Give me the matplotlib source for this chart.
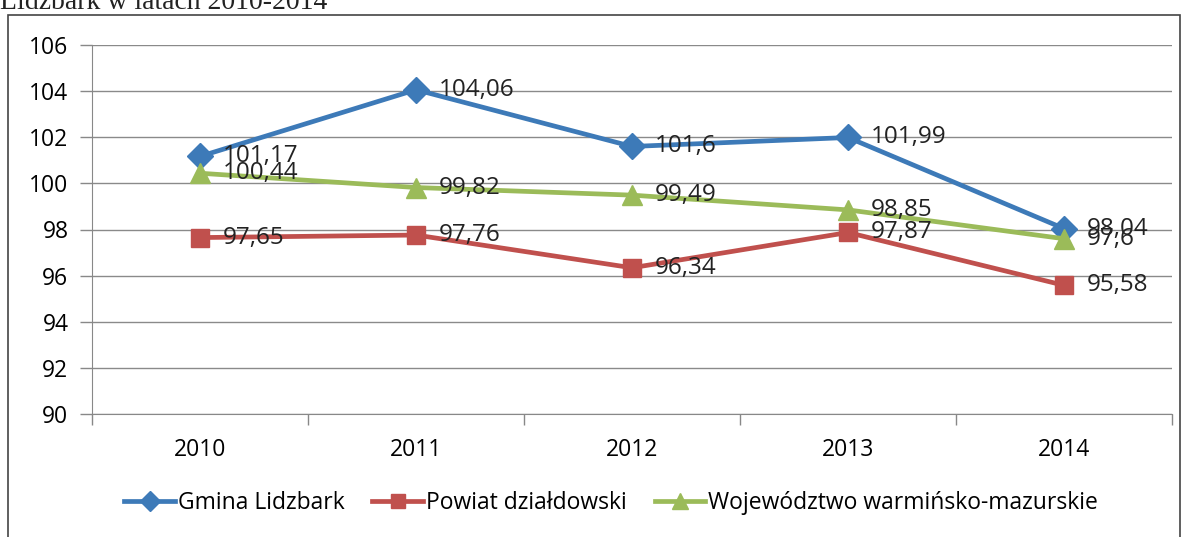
import matplotlib
matplotlib.use("Agg")
import matplotlib.pyplot as plt
from matplotlib.patches import Rectangle
import numpy as np

years = ["2010", "2011", "2012", "2013", "2014"]
gmina = [101.17, 104.06, 101.6, 101.99, 98.04]
powiat = [97.65, 97.76, 96.34, 97.87, 95.58]
woj = [100.44, 99.82, 99.49, 98.85, 97.6]
series_names = ["Gmina Lidzbark", "Powiat działdowski", "Województwo warmińsko-mazurskie"]
yticks = [90, 92, 94, 96, 98, 100, 102, 104, 106]

W, H = 1187, 537
fig = plt.figure(figsize=(W / 100, H / 100), dpi=100)
FONT = "Open Sans"

ax = fig.add_axes([92 / W, 1 - 414 / H, (1172 - 92) / W, (414 - 45) / H])
x = np.arange(len(years))

styles = [
    (gmina, "#3d7ab8", "D", 13),
    (powiat, "#c0504d", "s", 13),
    (woj, "#9bbb59", "^", 15),
]
for (vals, col, mk, ms), name in zip(styles, series_names):
    ax.plot(x, vals, color=col, lw=3.4, marker=mk, markersize=ms,
            markerfacecolor=col, markeredgecolor=col, label=name, zorder=3)
    for xi, v in zip(x, vals):
        lbl = ("%g" % v).replace(".", ",")
        ax.annotate(lbl, (xi, v), xytext=(23, 0), textcoords="offset pixels",
                    ha="left", va="center", fontsize=17.5, family=FONT, color="#222222", zorder=4)

ax.set_xlim(-0.5, len(years) - 0.5)
ax.set_ylim(90, 106)
ax.set_yticks(yticks)
ax.set_yticklabels([str(t) for t in yticks], family=FONT, fontsize=16.5)
ax.set_xticks(x)
ax.set_xticklabels(years, family=FONT, fontsize=16.5)
ax.tick_params(axis="x", length=0, pad=17)
ax.set_xticks(np.arange(-0.5, len(years), 1.0), minor=True)
ax.tick_params(axis="x", which="minor", length=8, color="#888888", width=1)
ax.tick_params(axis="y", length=9, color="#888888", width=1, pad=8)
ax.grid(axis="y", color="#8a8a8a", lw=1.0, zorder=0)
for s in ["top", "right"]:
    ax.spines[s].set_visible(False)
ax.spines["left"].set_color("#888888")
ax.spines["bottom"].set_color("#888888")

leg = fig.legend(loc="center", bbox_to_anchor=(0.515, 1 - 503 / H), ncol=3, frameon=False,
                 prop={"family": FONT, "size": 16.5}, handlelength=2.2, columnspacing=1.2,
                 handletextpad=0.15, markerscale=0.75)

fig.patches.append(Rectangle((8 / W, -0.02), (1180 - 8) / W, 1 - 15 / H + 0.02,
                             transform=fig.transFigure, fill=False, edgecolor="#444444",
                             lw=1.2))
fig.text(0 / W, 1 - 9 / H, "Lidzbark w latach 2010-2014", family="Liberation Serif",
         fontsize=20, va="baseline", ha="left", color="#222222")

fig.savefig("out.png", dpi=100)
